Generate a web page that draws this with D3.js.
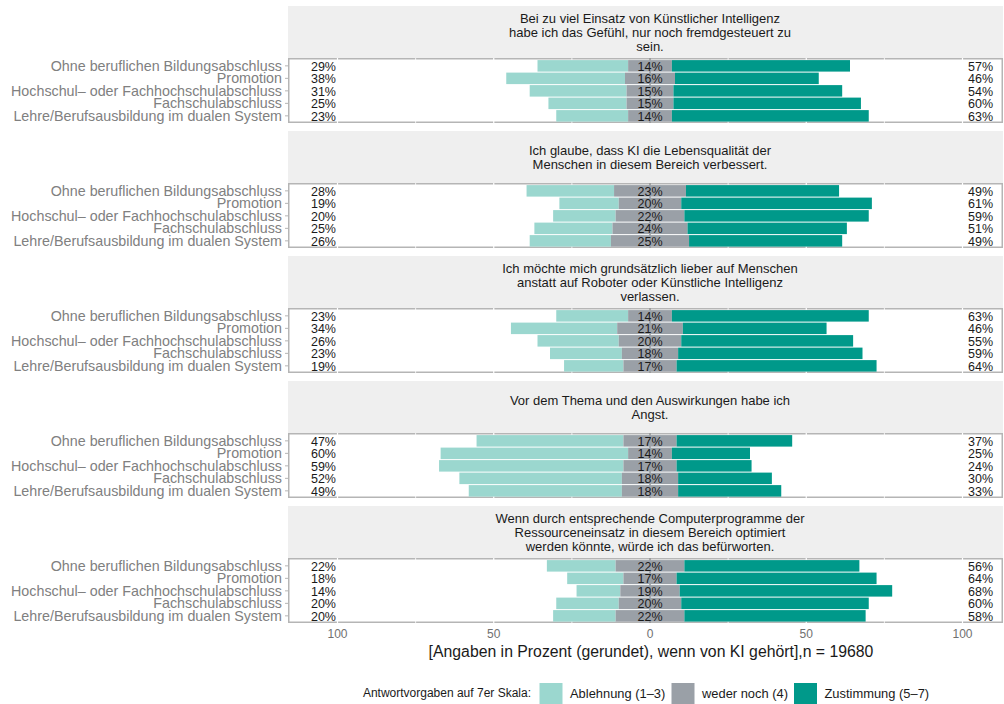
<!DOCTYPE html>
<meta charset="utf-8">
<style>
    body { margin: 0; background: #fff; }
    svg { display: block; font-family: "Liberation Sans", Arial, sans-serif; }
    .ylab { fill: #808080; font-size: 14.3px; }
    .pct { fill: #1a1a1a; font-size: 12.5px; }
    .strip-text { fill: #1a1a1a; font-size: 13px; }
    .xtick { fill: #707070; font-size: 12px; }
</style>
<svg width="1004" height="704"></svg>
<script src="https://cdn.jsdelivr.net/npm/d3@7"></script>
<script>
    // categories (top to bottom in each panel)
    var groups = [
        "Ohne beruflichen Bildungsabschluss",
        "Promotion",
        "Hochschul\u2013 oder Fachhochschulabschluss",
        "Fachschulabschluss",
        "Lehre/Berufsausbildung im dualen System"
    ];

    // facet titles, already wrapped like in the picture
    var items = [
        ["Bei zu viel Einsatz von Künstlicher Intelligenz", "habe ich das Gefühl, nur noch fremdgesteuert zu", "sein."],
        ["Ich glaube, dass KI die Lebensqualität der", "Menschen in diesem Bereich verbessert."],
        ["Ich möchte mich grundsätzlich lieber auf Menschen", "anstatt auf Roboter oder Künstliche Intelligenz", "verlassen."],
        ["Vor dem Thema und den Auswirkungen habe ich", "Angst."],
        ["Wenn durch entsprechende Computerprogramme der", "Ressourceneinsatz in diesem Bereich optimiert", "werden könnte, würde ich das befürworten."]
    ];

    // percentages per item, one value per group
    var low = [
        [29, 38, 31, 25, 23],
        [28, 19, 20, 25, 26],
        [23, 34, 26, 23, 19],
        [47, 60, 59, 52, 49],
        [22, 18, 14, 20, 20]
    ];
    var neutral = [
        [14, 16, 15, 15, 14],
        [23, 20, 22, 24, 25],
        [14, 21, 20, 18, 17],
        [17, 14, 17, 18, 18],
        [22, 17, 19, 20, 22]
    ];
    var high = [
        [57, 46, 54, 60, 63],
        [49, 61, 59, 51, 49],
        [63, 46, 55, 59, 64],
        [37, 25, 24, 30, 33],
        [56, 64, 68, 60, 58]
    ];

    var xTicks = [-100, -50, 0, 50, 100];
    var xMinor = [-75, -25, 25, 75];
    var legendTitle = "Antwortvorgaben auf 7er Skala:";
    var legendLabels = ["Ablehnung (1\u20133)", "weder noch (4)", "Zustimmung (5\u20137)"];
    var colors = ["#9bd7cf", "#9aa0a7", "#00998a"];
    var axisTitle = "[Angaben in Prozent (gerundet), wenn von KI gehört],n = 19680";

    var svg = d3.select("svg");

    var panelLeft = 288,
        panelRight = 1003,
        facetTop = 6,
        facetStep = 125,
        stripH = 52,
        panelH = 65;

    var x = d3.scaleLinear().domain([-100, 100]).range([337.5, 962.5]);

    var y = d3.scaleBand()
        .domain(groups)
        .range([1.6, panelH - 0.9])
        .paddingInner(0.08)
        .paddingOuter(0.04);

    items.forEach(function(title, i) {
        var top = facetTop + i * facetStep;
        var f = svg.append("g").attr("class", "facet");

        // strip
        f.append("rect")
            .attr("x", panelLeft)
            .attr("y", top)
            .attr("width", panelRight - panelLeft)
            .attr("height", stripH)
            .attr("fill", "#efefef");

        var lineH = 14;
        var cy = top + stripH / 2 - (title.length - 1) * lineH / 2;
        f.append("text")
            .attr("class", "strip-text")
            .attr("text-anchor", "middle")
            .selectAll("tspan")
            .data(title)
            .enter().append("tspan")
            .attr("x", x(0))
            .attr("y", function(d, j) { return cy + j * lineH; })
            .attr("dy", "0.35em")
            .text(function(d) { return d; });

        var pTop = top + stripH;
        var g = f.append("g").attr("transform", "translate(0," + pTop + ")");

        // panel border
        g.append("rect")
            .attr("x", panelLeft + 0.75)
            .attr("y", 0.75)
            .attr("width", panelRight - panelLeft - 1.5)
            .attr("height", panelH - 1.5)
            .attr("fill", "#fff")
            .attr("stroke", "#b5b5b5")
            .attr("stroke-width", 1.5);

        // grid lines (white, they only show where they cut the border)
        g.selectAll(".grid")
            .data(xTicks.concat(xMinor))
            .enter().append("line")
            .attr("class", "grid")
            .attr("x1", function(d) { return x(d); })
            .attr("x2", function(d) { return x(d); })
            .attr("y1", 0)
            .attr("y2", panelH)
            .attr("stroke", "#fff")
            .attr("stroke-width", function(d) { return xTicks.indexOf(d) >= 0 ? 1.2 : 0.8; });

        // y ticks
        g.selectAll(".ytick")
            .data(groups)
            .enter().append("line")
            .attr("x1", panelLeft - 3)
            .attr("x2", panelLeft)
            .attr("y1", function(d) { return y(d) + y.bandwidth() / 2; })
            .attr("y2", function(d) { return y(d) + y.bandwidth() / 2; })
            .attr("stroke", "#b5b5b5")
            .attr("stroke-width", 1);

        // zero line behind bars
        g.append("line")
            .attr("x1", x(0)).attr("x2", x(0))
            .attr("y1", 0).attr("y2", panelH)
            .attr("stroke", "#333")
            .attr("stroke-width", 0.8);

        var rows = groups.map(function(name, k) {
            return { name: name, low: low[i][k], mid: neutral[i][k], high: high[i][k] };
        });

        var row = g.selectAll(".row")
            .data(rows)
            .enter().append("g")
            .attr("class", "row");

        row.append("rect")
            .attr("x", function(d) { return x(-d.mid / 2 - d.low); })
            .attr("y", function(d) { return y(d.name); })
            .attr("width", function(d) { return x(-d.mid / 2) - x(-d.mid / 2 - d.low); })
            .attr("height", y.bandwidth())
            .attr("fill", colors[0]);

        row.append("rect")
            .attr("x", function(d) { return x(-d.mid / 2); })
            .attr("y", function(d) { return y(d.name); })
            .attr("width", function(d) { return x(d.mid / 2) - x(-d.mid / 2); })
            .attr("height", y.bandwidth())
            .attr("fill", colors[1]);

        row.append("rect")
            .attr("x", function(d) { return x(d.mid / 2); })
            .attr("y", function(d) { return y(d.name); })
            .attr("width", function(d) { return x(d.mid / 2 + d.high) - x(d.mid / 2); })
            .attr("height", y.bandwidth())
            .attr("fill", colors[2]);

        // percent labels
        row.append("text")
            .attr("class", "pct")
            .attr("x", x(-100) - 1.5)
            .attr("y", function(d) { return y(d.name) + y.bandwidth() / 2; })
            .attr("dy", "0.38em")
            .attr("text-anchor", "end")
            .text(function(d) { return d.low + "%"; });

        row.append("text")
            .attr("class", "pct")
            .attr("x", x(0))
            .attr("y", function(d) { return y(d.name) + y.bandwidth() / 2; })
            .attr("dy", "0.38em")
            .attr("text-anchor", "middle")
            .text(function(d) { return d.mid + "%"; });

        row.append("text")
            .attr("class", "pct")
            .attr("x", x(100) + 5.5)
            .attr("y", function(d) { return y(d.name) + y.bandwidth() / 2; })
            .attr("dy", "0.38em")
            .text(function(d) { return d.high + "%"; });

        // group labels
        row.append("text")
            .attr("class", "ylab")
            .attr("x", panelLeft - 6)
            .attr("y", function(d) { return y(d.name) + y.bandwidth() / 2; })
            .attr("dy", "0.36em")
            .attr("text-anchor", "end")
            .text(function(d) { return d.name; });
    });

    var axisY = facetTop + 4 * facetStep + stripH + panelH;

    svg.append("g")
        .selectAll("text")
        .data(xTicks)
        .enter().append("text")
        .attr("class", "xtick")
        .attr("x", function(d) { return x(d); })
        .attr("y", axisY + 11)
        .attr("dy", "0.35em")
        .attr("text-anchor", "middle")
        .text(function(d) { return Math.abs(d); });

    svg.append("text")
        .attr("x", x(0) + 1)
        .attr("y", axisY + 28)
        .attr("dy", "0.35em")
        .attr("text-anchor", "middle")
        .attr("fill", "#1a1a1a")
        .style("font-size", "15.8px")
        .text(axisTitle);

    // legend
    var legend = svg.append("g").attr("transform", "translate(0,693)");
    legend.append("text")
        .attr("x", 531)
        .attr("dy", "0.35em")
        .attr("text-anchor", "end")
        .attr("fill", "#1a1a1a")
        .style("font-size", "12px")
        .text(legendTitle);

    var keyX = [539.5, 671.5, 794];
    var key = legend.selectAll(".key")
        .data(legendLabels)
        .enter().append("g")
        .attr("class", "key")
        .attr("transform", function(d, i) { return "translate(" + keyX[i] + ",0)"; });

    key.append("rect")
        .attr("y", -10)
        .attr("width", 23)
        .attr("height", 23)
        .attr("fill", function(d, i) { return colors[i]; });

    key.append("text")
        .attr("x", 30.5)
        .attr("dy", "0.35em")
        .attr("fill", "#1a1a1a")
        .style("font-size", "12.9px")
        .text(function(d) { return d; });
</script>
